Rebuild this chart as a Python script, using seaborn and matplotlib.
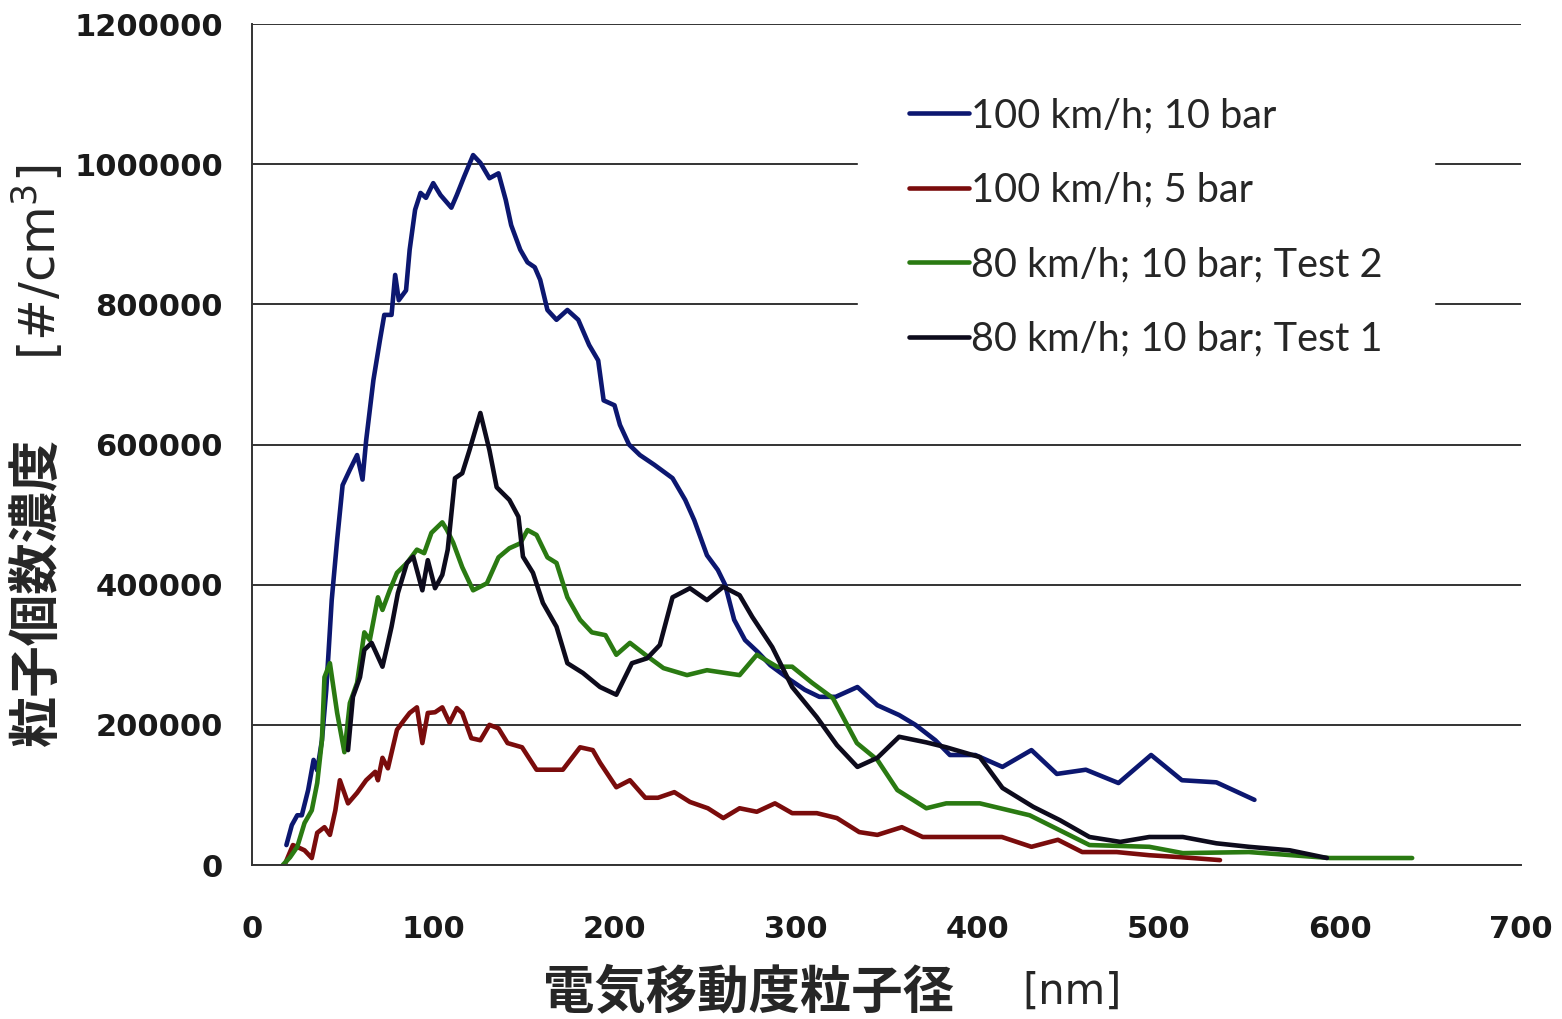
import numpy as np
import pandas as pd
import seaborn as sns
import matplotlib.pyplot as plt

# particle size [nm] and number concentration [#/cm3]
x_100_10 = [19, 22, 25, 27.5, 31, 34, 36, 38.6, 41, 44, 47, 50, 54, 58, 61, 63, 67, 70.6, 73, 77,
            79, 81, 85, 87, 90, 93, 96, 100, 104, 110, 113, 117, 122, 126, 131, 136, 140, 143, 148,
            152, 156, 159, 163, 168, 174, 180, 186, 191, 194, 200, 203, 208, 214, 222, 232, 239,
            244, 251, 257, 261, 266, 272, 279, 286, 297, 305, 313, 322, 334, 345, 357, 366, 377,
            385, 399, 414, 430, 444, 460, 478, 496, 513, 532, 553]
y_100_10 = [28500, 57000, 71000, 71000, 107000, 150000, 135000, 178000, 250000, 378000, 464000,
            542000, 564000, 585000, 550000, 606000, 692000, 749000, 785000, 785000, 842000, 806000,
            820000, 878000, 935000, 959000, 952000, 973000, 956000, 938000, 956000, 982000, 1013000,
            1002000, 980000, 987000, 949000, 913000, 878000, 860000, 853000, 835000, 792000, 778000,
            792000, 778000, 742000, 720000, 663000, 656000, 628000, 600000, 585000, 571000, 552000,
            521000, 492000, 442000, 421000, 400000, 350000, 321000, 304000, 285000, 264000, 250000,
            240000, 240000, 254000, 228000, 214000, 200000, 178000, 157000, 157000, 140000, 164000,
            130000, 136000, 117000, 157000, 121000, 118000, 93000]

x_100_5 = [18, 22.6, 26.5, 29, 33, 36, 40, 43, 46, 48.5, 53, 58, 63, 68, 69.5, 72, 75, 80, 84, 87,
           91, 94, 97, 101, 105, 109, 113, 116, 121, 126, 131, 136, 141, 149, 157, 171.5, 181, 188,
           192, 201, 208.5, 217, 224, 233, 241.6, 251.5, 260, 269, 278.5, 288.5, 298, 311.6, 322.7,
           335, 345, 358.5, 370, 401.5, 413.7, 430, 444.6, 458, 477, 495, 513.5, 534]
y_100_5 = [0, 28500, 24000, 21000, 10000, 46000, 54000, 43000, 78000, 121000, 88000, 103000, 121000,
           133000, 121000, 153000, 138000, 193000, 207000, 217000, 225000, 174000, 217000, 218000,
           225000, 203000, 224000, 217000, 181000, 178000, 200000, 195000, 174000, 168000, 136000,
           136000, 168000, 164000, 146000, 111000, 121000, 96000, 96000, 104000, 90000, 81000, 67000,
           81000, 76000, 88000, 74000, 74000, 67000, 47000, 43000, 54000, 40000, 40000, 40000, 26000,
           36000, 18500, 18500, 14000, 11000, 7000]

x_80_t2 = [17, 21, 25, 29, 33, 36, 38.6, 40, 43, 47, 51, 54, 58, 62, 65, 69.5, 72, 76, 80, 85.5, 91,
           95, 99, 105, 107.6, 111, 116, 122, 129.6, 136, 142, 148, 152, 157, 163, 168, 174, 181,
           187.5, 195, 201, 208.5, 217, 227, 240, 251, 269, 278.5, 289.6, 298, 309, 320.5, 333.7,
           345, 356, 372, 383, 401.5, 429, 462, 495, 513.5, 550, 594.6, 640]
y_80_t2 = [0, 11000, 26000, 60000, 78000, 117000, 178000, 268000, 288000, 217000, 161000, 231000,
           260000, 332000, 321000, 382000, 364000, 392000, 417000, 431000, 450000, 445000, 474000,
           489000, 478000, 460000, 425000, 392000, 402000, 439000, 452000, 459000, 478000, 471000,
           439000, 431000, 382000, 350000, 332000, 328000, 300000, 317000, 300000, 281000, 271000,
           278000, 271000, 300000, 283000, 283000, 260000, 238000, 174000, 150000, 107000, 81000,
           88000, 88000, 71000, 28500, 26000, 17000, 18500, 10000, 10000]

x_80_t1 = [53, 55.7, 59.6, 62, 66, 72, 74.5, 77, 80.5, 85.5, 89, 94, 97, 101, 105, 108, 112, 116,
           120, 126, 131, 135, 142, 147, 149.5, 155, 160.5, 168, 174, 182.6, 192, 201, 209.6, 218,
           225, 232, 241.6, 251, 260, 269, 276, 287, 298, 311.6, 322.7, 334, 345, 357, 372, 383,
           401.5, 414, 431, 445.7, 462, 479, 495, 513.5, 532, 550, 572.5, 593]
y_80_t1 = [164000, 240000, 268000, 307000, 317000, 283000, 311000, 340000, 388000, 431000, 440000,
           392000, 435000, 395000, 414000, 450000, 552000, 559000, 592000, 645000, 592000, 539000,
           521000, 497000, 440000, 417000, 374000, 340000, 288000, 274000, 254000, 243000, 288000,
           295000, 314000, 382000, 395000, 378000, 397000, 385000, 354000, 311000, 254000, 211000,
           171000, 140000, 153000, 183000, 175000, 168000, 154000, 110000, 83000, 64000, 40000,
           33000, 40000, 40000, 31000, 26000, 21000, 10000]

labels = ['100 km/h; 10 bar', '100 km/h; 5 bar', '80 km/h; 10 bar; Test 2', '80 km/h; 10 bar; Test 1']
colors = ['#0c1770', '#7a0c0c', '#2a7a12', '#0d0b1c']

series = [(x_100_10, y_100_10), (x_100_5, y_100_5), (x_80_t2, y_80_t2), (x_80_t1, y_80_t1)]
frames = []
for lab, (xs, ys) in zip(labels, series):
    frames.append(pd.DataFrame({'size': xs, 'conc': ys, 'cond': lab}))
df = pd.concat(frames, ignore_index=True)

sns.set_style('white')
plt.rcParams['font.family'] = ['DejaVu Sans', 'Noto Sans CJK JP']

fig = plt.figure(figsize=(15.62, 10.19), dpi=100)
ax = fig.add_axes([0.1613, 0.1511, 0.8124, 0.8253])

sns.lineplot(data=df, x='size', y='conc', hue='cond', hue_order=labels,
             palette=colors, sort=False, estimator=None, linewidth=3.3, ax=ax)

ax.set_xlim(0, 700)
ax.set_ylim(0, 1200000)
ax.set_xticks(np.arange(0, 701, 100))
ax.set_yticks(np.arange(0, 1200001, 200000))
ax.set_xticklabels([str(v) for v in range(0, 701, 100)])
ax.set_yticklabels([str(v) for v in range(0, 1200001, 200000)])
ax.yaxis.grid(True, color='#333333', linewidth=1.4)
ax.xaxis.grid(False)
ax.set_axisbelow(True)

for s in ['top', 'right']:
    ax.spines[s].set_visible(False)
for s in ['left', 'bottom']:
    ax.spines[s].set_color('#333333')
    ax.spines[s].set_linewidth(1.4)

ax.tick_params(axis='y', direction='inout', length=14, width=1.4, color='#333333',
               labelsize=22, pad=14)
ax.tick_params(axis='x', direction='out', length=10, width=1.4, color='#333333',
               labelsize=22, pad=26)
for t in ax.get_xticklabels() + ax.get_yticklabels():
    t.set_fontweight('bold')
    t.set_color('#1a1a1a')

ax.set_xlabel('')
ax.set_ylabel('')
cjk = 'Noto Sans CJK JP'
ax.text(0.391, -0.151, '電気移動度粒子径', transform=ax.transAxes, ha='center', va='center',
        fontsize=37, fontweight='bold', family=cjk)
ax.text(0.646, -0.151, '[nm]', transform=ax.transAxes, ha='center', va='center',
        fontsize=30, family=['DejaVu Sans'])
ax.text(-0.169, 0.325, '粒子個数濃度', transform=ax.transAxes, ha='center', va='center',
        rotation=90, fontsize=37, fontweight='bold', family=cjk)
ax.text(-0.169, 0.717, '[#/cm$^3$]', transform=ax.transAxes, ha='center', va='center',
        rotation=90, fontsize=36, family=['DejaVu Sans'])

leg = ax.legend(loc='upper left', bbox_to_anchor=(0.462, 0.998), frameon=True,
                facecolor='white', edgecolor='white', framealpha=1, fancybox=False,
                handlelength=1.5, handletextpad=0.05, labelspacing=0.95,
                borderpad=1.3, prop={'family': 'Lato', 'size': 28.5})
for line in leg.get_lines():
    line.set_linewidth(3.3)

fig.savefig('out.png', dpi=100)
